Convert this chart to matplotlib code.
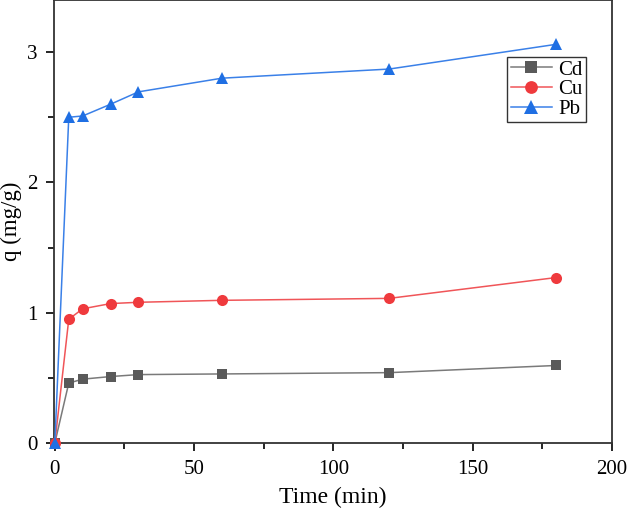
import matplotlib
matplotlib.use("Agg")
import matplotlib.pyplot as plt
from matplotlib.ticker import MultipleLocator

time = [0, 5, 10, 20, 30, 60, 120, 180]
cd = [0, 0.46, 0.49, 0.51, 0.525, 0.53, 0.54, 0.595]
cu = [0, 0.95, 1.03, 1.07, 1.08, 1.095, 1.11, 1.27]
pb = [0, 2.50, 2.51, 2.60, 2.695, 2.80, 2.87, 3.06]

plt.rcParams['font.family'] = ['Liberation Serif', 'DejaVu Serif']

fig = plt.figure(figsize=(6.28, 5.13), dpi=100)
ax = fig.add_axes([54/628, 70/513, (612-54)/628, 443/513])

series = [
    (cd, 'Cd', 's', 7, '#5a5a5a', '#7a7a7a'),
    (cu, 'Cu', 'o', 8, '#ef3a3d', '#f05558'),
    (pb, 'Pb', '^', 9, '#1f6fe3', '#3a80e8'),
]
for vals, lab, mk, ms, mc, lc in series:
    ax.plot(time, vals, color=lc, marker=mk, markersize=ms, lw=1.1, label=lab,
            markerfacecolor=mc, markeredgewidth=0, clip_on=False, zorder=3)

ax.set_xlim(-0.3, 200)
ax.set_ylim(0, 3.4)
ax.xaxis.set_major_locator(MultipleLocator(50))
ax.xaxis.set_minor_locator(MultipleLocator(25))
ax.yaxis.set_major_locator(MultipleLocator(1))
ax.yaxis.set_minor_locator(MultipleLocator(0.5))
ax.tick_params(which='both', direction='out', width=1.2, labelsize=15, pad=6)
ax.tick_params(which='major', length=6)
ax.tick_params(which='minor', length=4)
for s in ax.spines.values():
    s.set_linewidth(1.3)
    s.set_color('#333333')

ax.set_xlabel('Time (min)', fontsize=17, labelpad=6)
ax.set_ylabel('q (mg/g)', fontsize=16.5)
ax.yaxis.set_label_coords(-0.058, 0.5)

leg = ax.legend(loc='upper right', bbox_to_anchor=(0.972, 0.895), fontsize=15,
                frameon=True, fancybox=False, edgecolor='black',
                handlelength=2.0, borderpad=0.15, labelspacing=0.0, handletextpad=0.3,
                markerscale=1.15)
leg.get_frame().set_linewidth(1.0)

fig.savefig('out.png', dpi=100)
